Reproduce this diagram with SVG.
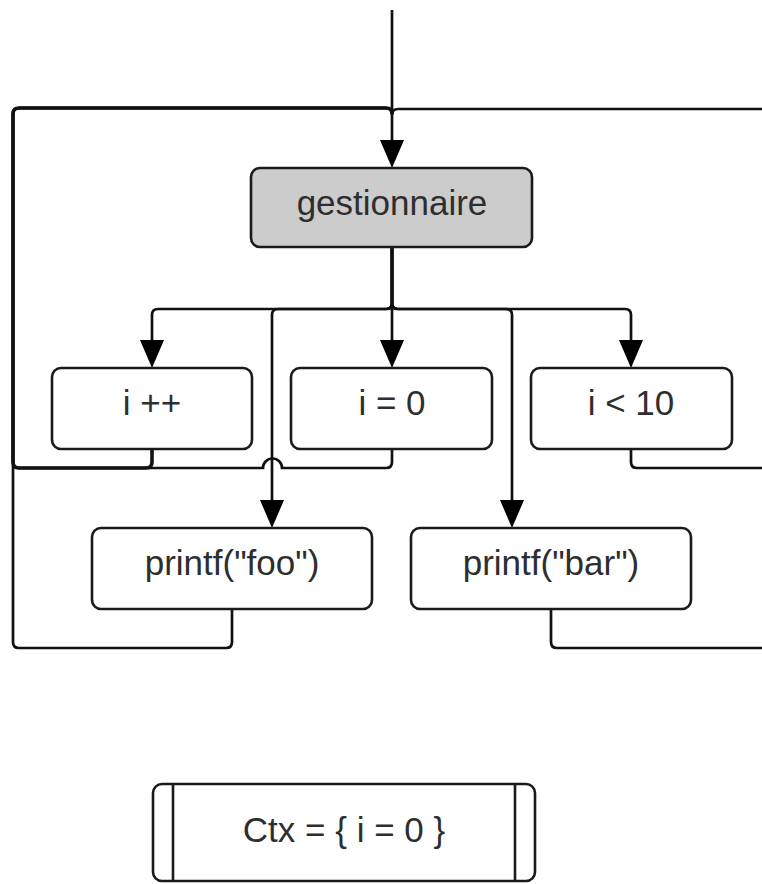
<svg xmlns="http://www.w3.org/2000/svg" width="762" height="884" viewBox="0 0 762 884">
  <style>
    .box { fill: #ffffff; stroke: #1a1a1a; stroke-width: 2.6; }
    .box.handler { fill: #cccccc; }
    .label { font-family: "Liberation Sans", Arial, sans-serif; font-size: 35px; fill: #2e2e2e; text-anchor: middle; }
    .wire { fill: none; stroke: #111111; stroke-width: 2.7; }
    .wire.trunk { stroke-width: 3.6; }
    .wire.arrow { marker-end: url(#head); }
    .bar { stroke: #1a1a1a; stroke-width: 2.6; }
  </style>
  <defs>
    <marker id="head" markerUnits="userSpaceOnUse" viewBox="0 -12 28 24" markerWidth="28" markerHeight="24" refX="24" refY="0" orient="auto">
      <path d="M0,-12 L28,0 L0,12 Z" fill="#000000"/>
    </marker>
  </defs>

  <!-- connectors -->
  <g id="connectors">
    <!-- entry into the handler -->
    <path class="wire arrow" d="M392,10 V164"/>
    <!-- fan-out from the handler -->
    <path class="wire arrow" d="M392,247 V303 Q392,309 386,309 H158 Q152,309 152,315 V364"/>
    <path class="wire arrow" d="M392,247 V364"/>
    <path class="wire arrow" d="M392,247 V303 Q392,309 398,309 H625 Q631,309 631,315 V364"/>
    <path class="wire arrow" d="M392,247 V303 Q392,309 386,309 H278 Q272,309 272,315 V524"/>
    <path class="wire arrow" d="M392,247 V303 Q392,309 398,309 H506 Q512,309 512,315 V524"/>
    <!-- returns to the handler, left side -->
    <path class="wire" d="M232,609 V642 Q232,648 226,648 H19 Q13,648 13,642 V114 Q13,108 19,108 H386 Q392,108 392,114"/>
    <path class="wire" d="M392,449 V462 Q392,468 386,468 H282 A9,9 0 0 0 263,468 H19 Q13,468 13,462 V114 Q13,108 19,108 H386 Q392,108 392,114"/>
    <path class="wire trunk" d="M152,449 V462 Q152,468 146,468 H19 Q13,468 13,462 V114 Q13,108 19,108 H386 Q392,108 392,114"/>
    <!-- returns to the handler, right side (routed past the edge) -->
    <path class="wire" d="M631,449 V462 Q631,468 637,468 H762"/>
    <path class="wire" d="M551,609 V642 Q551,648 557,648 H762"/>
    <path class="wire" d="M762,109 H398 Q392,109 392,115"/>
  </g>

  <!-- nodes -->
  <g id="gestionnaire">
    <rect class="box handler" x="251" y="168" width="281" height="79" rx="9"/>
    <text class="label" x="392" y="215">gestionnaire</text>
  </g>
  <g id="inc">
    <rect class="box" x="52" y="368" width="200" height="81" rx="9"/>
    <text class="label" x="152" y="415">i ++</text>
  </g>
  <g id="init">
    <rect class="box" x="291" y="368" width="201" height="81" rx="9"/>
    <text class="label" x="392" y="415">i = 0</text>
  </g>
  <g id="cond">
    <rect class="box" x="531" y="368" width="201" height="81" rx="9"/>
    <text class="label" x="631" y="415">i &lt; 10</text>
  </g>
  <g id="print-foo">
    <rect class="box" x="92" y="528" width="280" height="81" rx="9"/>
    <text class="label" x="232" y="575">printf("foo")</text>
  </g>
  <g id="print-bar">
    <rect class="box" x="411" y="528" width="280" height="81" rx="9"/>
    <text class="label" x="551" y="575">printf("bar")</text>
  </g>
  <g id="ctx">
    <rect class="box" x="153" y="784" width="382" height="97" rx="9"/>
    <line class="bar" x1="173" y1="784" x2="173" y2="881"/>
    <line class="bar" x1="515" y1="784" x2="515" y2="881"/>
    <text class="label" x="344" y="842">Ctx = { i = 0 }</text>
  </g>
</svg>
